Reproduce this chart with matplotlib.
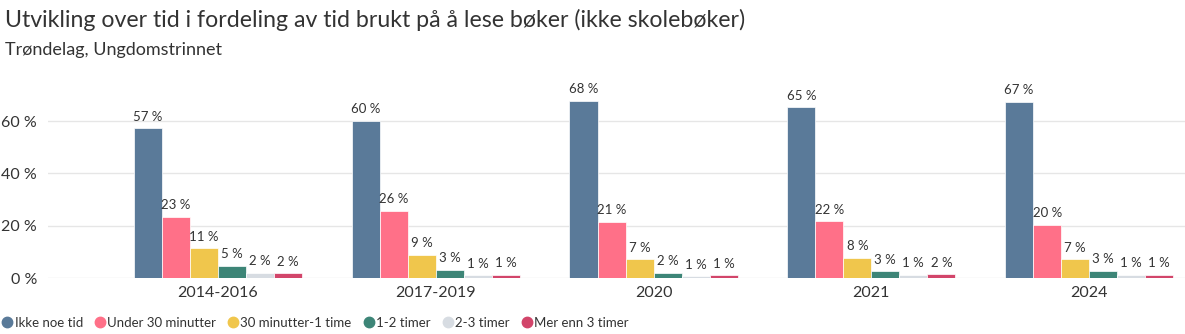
import matplotlib
matplotlib.use("Agg")
import matplotlib.pyplot as plt
from matplotlib.lines import Line2D
import numpy as np

categories = ["2014-2016", "2017-2019", "2020", "2021", "2024"]
series_names = ["Ikke noe tid", "Under 30 minutter", "30 minutter-1 time",
                "1-2 timer", "2-3 timer", "Mer enn 3 timer"]
ikke_noe_tid = [57.3, 60.1, 67.8, 65.2, 67.3]
under_30 = [23.4, 25.8, 21.4, 21.7, 20.4]
min30_1t = [11.4, 8.9, 7.2, 7.7, 7.2]
t1_2 = [4.7, 3.2, 2.0, 2.6, 2.7]
t2_3 = [1.9, 1.1, 0.6, 1.3, 1.2]
mer_enn_3 = [1.8, 1.2, 1.0, 1.5, 1.3]
series_values = [ikke_noe_tid, under_30, min30_1t, t1_2, t2_3, mer_enn_3]
colors = ["#5a7a99", "#ff7088", "#f0c64c", "#3d8577", "#d7dce2", "#d2456a"]
yticks = [0, 20, 40, 60]

plt.rcParams['font.family'] = ['Lato', 'DejaVu Sans']
txt = "#333333"

fig = plt.figure(figsize=(11.85, 3.34), dpi=100)
ax = fig.add_axes([48/1185, 56/334, 1 - 48/1185, (278-80)/334])

x = np.arange(len(categories))
bw = 0.1286
n = len(series_values)
for i, (vals, c) in enumerate(zip(series_values, colors)):
    pos = x + (i - (n - 1) / 2) * bw
    ax.bar(pos, vals, width=bw, color=c, edgecolor="white", linewidth=0.5, zorder=3)
    for xp, v in zip(pos, vals):
        ax.annotate(f"{round(v):d} %", (xp, v), xytext=(0, 4), textcoords="offset points",
                    ha="center", va="bottom", fontsize=9.5, color=txt, zorder=4)

ax.set_xlim(-0.78, 4.44)
ax.set_ylim(0, 75.7)
ax.set_yticks(yticks)
ax.set_yticklabels([f"{t} %" for t in yticks], fontsize=11.5, color=txt)
ax.set_xticks(x)
ax.set_xticklabels(categories, fontsize=11.5, color=txt)
ax.tick_params(axis="both", length=0)
ax.tick_params(axis="y", pad=8)
ax.tick_params(axis="x", pad=6)
ax.grid(axis="y", color="#e6e6e6", linewidth=1, zorder=0)
for s in ax.spines.values():
    s.set_visible(False)

fig.text(5/1185, 1 - 20/334, "Utvikling over tid i fordeling av tid brukt på å lese bøker (ikke skolebøker)",
         fontsize=16.7, color=txt, va="center", ha="left")
fig.text(5/1185, 1 - 50/334, "Trøndelag, Ungdomstrinnet", fontsize=13, color=txt, va="center", ha="left")

handles = [Line2D([0], [0], marker="o", linestyle="", markersize=7.5, markerfacecolor=c,
                  markeredgecolor=c) for c in colors]
fig.legend(handles, series_names, loc="center left", bbox_to_anchor=(0, 11/334), ncol=6,
           frameon=False, fontsize=9.5, handletextpad=0.0, columnspacing=0.75,
           borderaxespad=0, borderpad=0, labelcolor=txt, handlelength=1.1)

fig.savefig("out.png", dpi=100)
